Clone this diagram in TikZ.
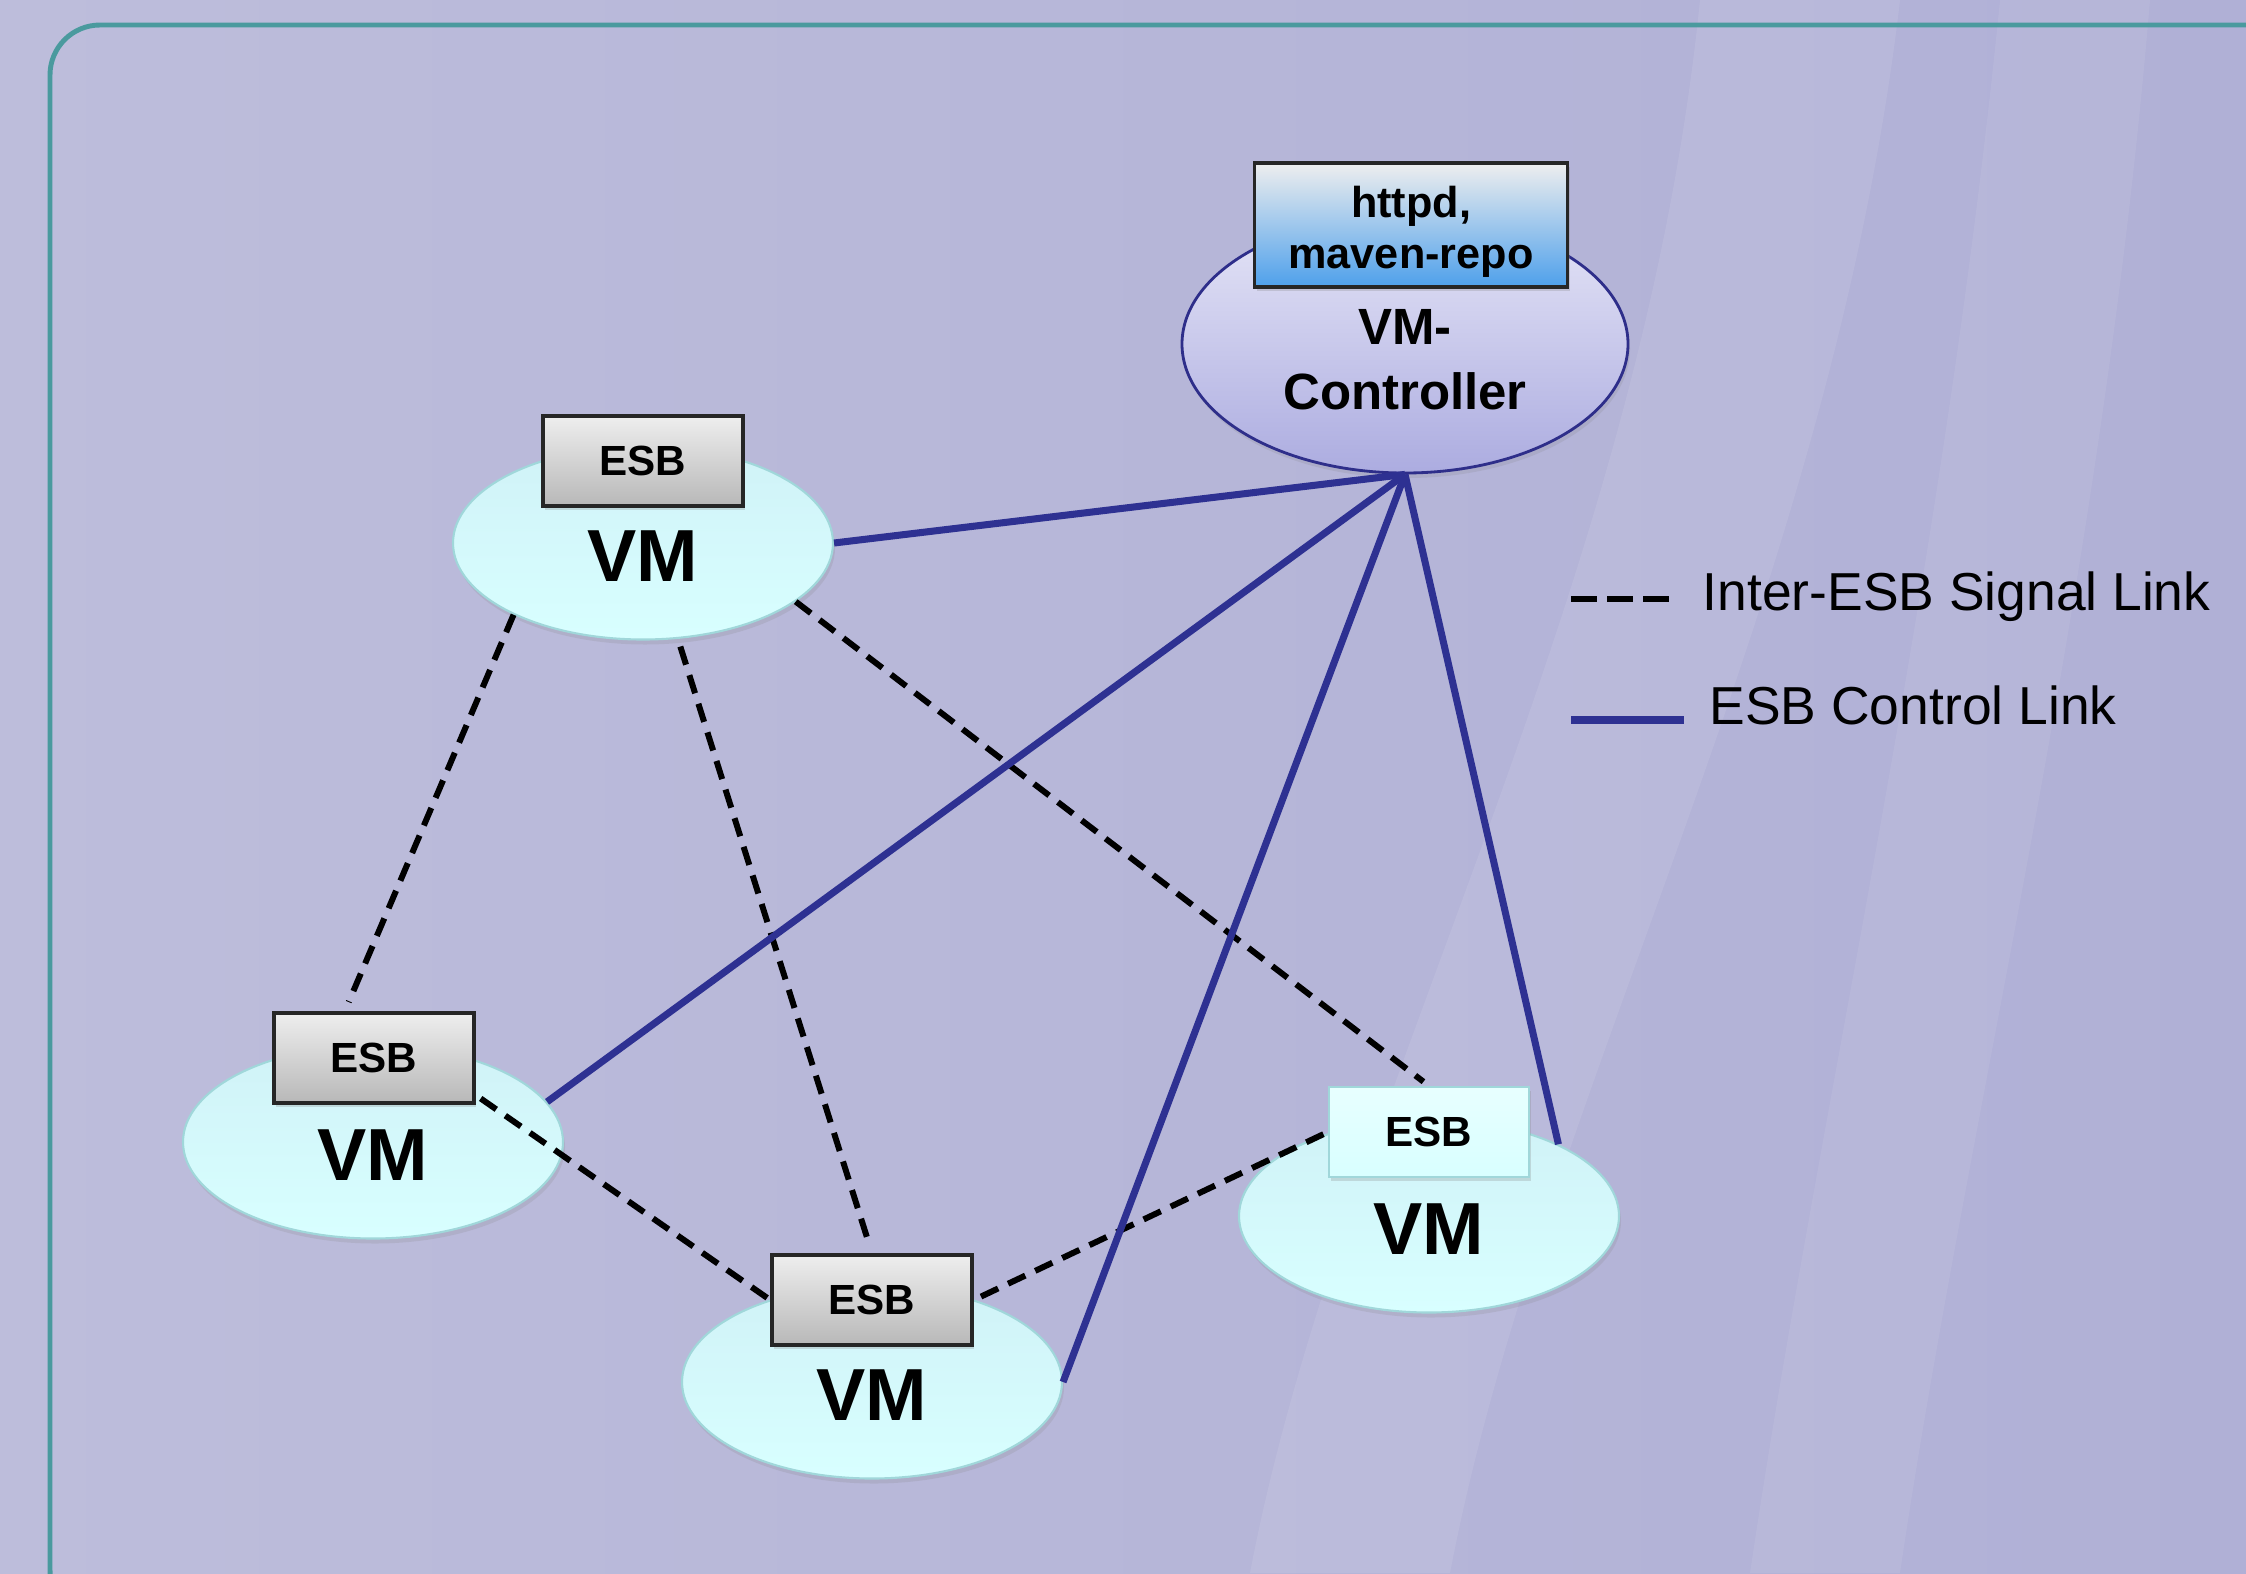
\documentclass[tikz,border=0pt]{standalone}
\usepackage{fontspec}
\setmainfont{Liberation Sans}
\usepackage{xcolor}
\usetikzlibrary{shapes.geometric, shadows, calc}

\definecolor{bgpurple}{RGB}{189,189,219}
\definecolor{bgdeep}{RGB}{176,176,214}
\definecolor{framecol}{RGB}{74,154,158}
\definecolor{linkblue}{RGB}{46,49,146}
\definecolor{vmtop}{RGB}{208,242,247}
\definecolor{vmbot}{RGB}{216,255,255}
\definecolor{vmedge}{RGB}{160,215,218}
\definecolor{ctrltop}{RGB}{230,230,247}
\definecolor{ctrlbot}{RGB}{172,172,224}
\definecolor{ctrledge}{RGB}{46,46,138}
\definecolor{repomid}{RGB}{172,196,222}
\definecolor{repoblue}{RGB}{78,160,235}
\definecolor{esbtop}{RGB}{238,238,238}
\definecolor{esbbot}{RGB}{184,184,184}

\begin{document}
\begin{tikzpicture}[
    % Node styles
    vmell/.style={ellipse, draw=vmedge, line width=0.6pt, top color=vmtop, bottom color=vmbot, minimum width=3.8cm, minimum height=1.93cm, inner sep=0pt, font=\fontsize{21}{21}\selectfont\bfseries, text height=0.77cm, text depth=0pt, drop shadow={opacity=0.18, shadow xshift=0.02cm, shadow yshift=-0.05cm}},
    ctrlell/.style={ellipse, draw=ctrledge, line width=0.8pt, top color=ctrltop, bottom color=ctrlbot, minimum width=4.46cm, minimum height=2.58cm, inner sep=0pt, drop shadow={opacity=0.18, shadow xshift=0.02cm, shadow yshift=-0.05cm}},
    ctrltext/.style={inner sep=0pt, align=center, font=\fontsize{14.5}{18.5}\selectfont\bfseries},
    esbbox/.style={rectangle, draw=black!85, line width=1pt, top color=esbtop, bottom color=esbbot, minimum width=2cm, minimum height=0.9cm, inner sep=0pt, font=\fontsize{12}{12}\selectfont\bfseries, drop shadow={opacity=0.25, shadow xshift=0.02cm, shadow yshift=-0.04cm}},
    esbcyan/.style={esbbox, draw=vmedge, line width=0.6pt, top color=vmbot!60!white, bottom color=vmbot},
    repobox/.style={rectangle, draw=black!85, line width=1pt, top color=esbtop, middle color=repomid, bottom color=repoblue, minimum width=3.13cm, minimum height=1.24cm, inner sep=0pt, drop shadow={opacity=0.25, shadow xshift=0.02cm, shadow yshift=-0.04cm}},
    repotext/.style={inner sep=0pt, align=center, font=\fontsize{12.3}{14.5}\selectfont\bfseries},
    ctrllink/.style={linkblue, line width=2pt},
    siglink/.style={black, line width=1.7pt, dash pattern=on 0.19cm off 0.11cm},
    legtext/.style={anchor=base west, inner sep=0pt, font=\fontsize{15.2}{15.2}\selectfont}
]

\useasboundingbox (0,0) rectangle (22.46,-15.73);

% Background and frame
\fill[left color=bgpurple, right color=bgdeep] (0,0) rectangle (22.46,-15.73);
\fill[white, opacity=0.09] (17.0,0) .. controls (16.4,-6) and (13.4,-11) .. (12.5,-15.73) -- (14.5,-15.73) .. controls (15.4,-11) and (18.3,-6) .. (19.0,0) -- cycle;
\fill[white, opacity=0.07] (20.0,0) .. controls (19.4,-6) and (18.2,-11) .. (17.5,-15.73) -- (19.0,-15.73) .. controls (19.7,-11) and (21.0,-6) .. (21.5,0) -- cycle;
\draw[framecol, line width=1.4pt, rounded corners=0.5cm] (0.5,-0.25) rectangle (23,-16.2);

% VM controller
\node[ctrlell] (ctrl) at (14.05,-3.44) {};
\node[ctrltext] (ctrllab) at (14.05,-3.595) {VM-\\Controller};
\node[repobox] (repo) at (14.11,-2.25) {};
\node[repotext] (repolab) at (14.11,-2.32) {httpd,\\maven-repo};

% VMs with their ESBs
\node[vmell] (vm1) at (6.43,-5.43) {VM};
\node[esbbox] (esb1) at (6.43,-4.61) {ESB};

\node[vmell] (vm2) at (3.73,-11.42) {VM};
\node[esbbox] (esb2) at (3.74,-10.58) {ESB};

\node[vmell] (vm3) at (8.72,-13.82) {VM};
\node[esbbox] (esb3) at (8.72,-13.00) {ESB};

\node[vmell] (vm4) at (14.29,-12.16) {VM};
\node[esbcyan] (esb4) at (14.29,-11.32) {ESB};

% Inter-ESB signal links
\draw[siglink, shorten >=0.1cm] (vm1.209) -- (esb2.122);
\draw[siglink, shorten <=0.08cm, shorten >=0.15cm] (vm1.-70) -- (esb3.north);
\draw[siglink, shorten >=0.07cm] (vm1.-21) -- (esb4.north);
\draw[siglink, shorten <=0.06cm] (esb2.-20) -- (esb3.west);
\draw[siglink, shorten <=0.08cm] (esb3.east) -- (esb4.west);

% ESB control links
\draw[ctrllink] (vm1.east) -- (ctrl.south);
\draw[ctrllink] (vm2.13) -- (ctrl.south);
\draw[ctrllink] (vm3.east) -- (ctrl.south);
\draw[ctrllink] (vm4.29) -- (ctrl.south);

% Legend
\coordinate (sigA) at (15.71,-5.99);
\coordinate (sigB) at (16.69,-5.99);
\coordinate (ctlA) at (15.71,-7.2);
\coordinate (ctlB) at (16.84,-7.2);
\draw[black, line width=1.7pt, dash pattern=on 0.26cm off 0.1cm] (sigA) -- (sigB);
\draw[ctrllink] (ctlA) -- (ctlB);
\node[legtext] (sigtext) at (17.02,-6.1) {Inter-ESB Signal Link};
\node[legtext] (ctltext) at (17.09,-7.24) {ESB Control Link};

\end{tikzpicture}
\end{document}
